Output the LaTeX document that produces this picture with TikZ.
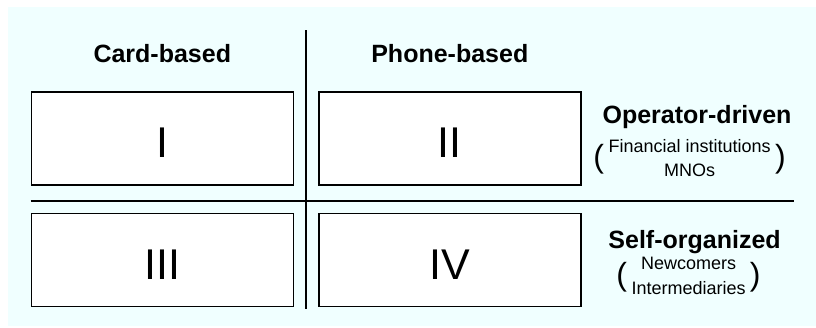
\documentclass[tikz,border=0pt]{standalone}
\usepackage{fontspec}
\setmainfont{Liberation Sans}
\usetikzlibrary{positioning,calc}
\definecolor{bgcyan}{RGB}{240,255,255}
\newcommand{\actors}[2]{\begin{tabular}{@{}c@{}}#1\\#2\end{tabular}}
\renewcommand{\arraystretch}{1.27}

\begin{document}
\begin{tikzpicture}[x=1pt,y=-1pt]

  \tikzstyle{every node}=[font=\fontsize{25}{30}\selectfont\bfseries]

  \tikzset{quad/.style={draw, line width=1.5pt, fill=white,
      minimum width=262pt, minimum height=93pt, inner sep=0pt,
      text height=38pt, text depth=0pt, font=\fontsize{43}{43}\selectfont}}
  \tikzset{who/.style={inner sep=0pt, font=\fontsize{18}{19}\selectfont}}
  \tikzset{paren/.style={inner sep=0pt, font=\fontsize{32}{32}\selectfont}}

  % Background
  \useasboundingbox (0,0) rectangle (816,327);
  \fill[bgcyan] (8,7) rectangle (816,326);

  % Quadrants
  \node[quad] (I) at (162.3,138.7) {I};
  \node[quad, right=24pt of I] (II) {II};
  \node[quad, below=27pt of I] (III) {III};
  \node[quad, right=24pt of III] (IV) {IV};

  % Column headings
  \node[inner sep=0pt, above=29pt of I] (card) {Card-based};
  \node[inner sep=0pt, above=29pt of II] (phone) {Phone-based};

  % Dividers between the quadrants
  \coordinate (vtop) at ($(I.north east)!0.5!(II.north west) + (0,-61)$);
  \coordinate (vbot) at ($(III.south east)!0.5!(IV.south west) + (0,1.5)$);
  \coordinate (hleft) at ($(I.south west)!0.5!(III.north west) + (0,1.5)$);
  \coordinate (hright) at ($(hleft) + (763,0)$);
  \draw[line width=1.5pt] (vtop) -- (vbot);
  \draw[line width=1.5pt] (hleft) -- (hright);

  % Row headings
  \node[inner sep=0pt, anchor=base] (operator) at ($(II.east) + (115.5,-15.4)$) {Operator-driven};
  \node[who] (opactors) at ($(II.east) + (108,21)$) {\actors{Financial institutions}{MNOs}};
  \node[paren, left=4pt of opactors] (oplp) {(};
  \node[paren, right=4pt of opactors] (oprp) {)};

  \node[inner sep=0pt, anchor=base] (self) at ($(IV.east) + (113,-11.9)$) {Self-organized};
  \node[who] (selfactors) at ($(IV.east) + (107,17)$) {\actors{Newcomers}{Intermediaries}};
  \node[paren, left=4pt of selfactors] (selflp) {(};
  \node[paren, right=4pt of selfactors] (selfrp) {)};

\end{tikzpicture}
\end{document}
